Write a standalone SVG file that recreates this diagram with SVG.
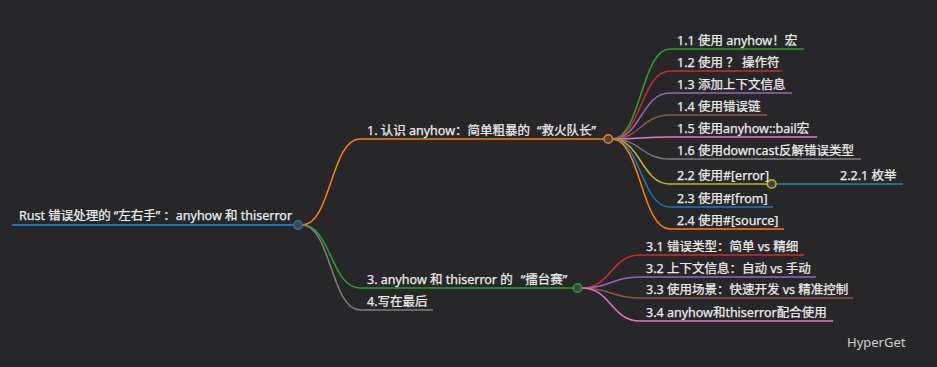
<svg xmlns="http://www.w3.org/2000/svg" width="937" height="367" viewBox="0 0 937 367">
<style>
text{font-family:"Noto Sans","Noto Sans CJK SC",sans-serif;font-size:12.5px;fill:#ececec;stroke:#ececec;stroke-width:0.25}
.l{fill:none;stroke-width:1.5}
.dot{fill:#444;stroke-width:1.5}
.wm{font-size:13px;fill:#cfcfcf;stroke:none}
</style>
<rect width="937" height="367" fill="#272729"/>
<g id="connectors">
<path class="l" stroke="#ff7f0e" d="M302,225 C331,225 331,139 360,139 H604"/>
<path class="l" stroke="#2ca02c" d="M302,225 C331,225 331,288 360,288 H573"/>
<path class="l" stroke="#7f7f7f" d="M302,225 C331,225 331,310 360,310 H433"/>
<path class="l" stroke="#2ca02c" d="M612,139 C641,139 641,49 670,49 H804"/>
<path class="l" stroke="#d62728" d="M612,139 C641,139 641,71 670,71 H782"/>
<path class="l" stroke="#9467bd" d="M612,139 C641,139 641,93 670,93 H792"/>
<path class="l" stroke="#8c564b" d="M612,139 C641,139 641,115 670,115 H767"/>
<path class="l" stroke="#e377c2" d="M612,139 C641,139 641,137 670,137 H817"/>
<path class="l" stroke="#7f7f7f" d="M612,139 C641,139 641,159 670,159 H861"/>
<path class="l" stroke="#bcbd22" d="M612,139 C641,139 641,184 670,184 H767"/>
<path class="l" stroke="#1f77b4" d="M612,139 C641,139 641,207 670,207 H773"/>
<path class="l" stroke="#ff7f0e" d="M612,139 C641,139 641,229 670,229 H784"/>
<path class="l" stroke="#1a8f9b" d="M776,184 H903"/>
<path class="l" stroke="#d62728" d="M582,288 C611,288 611,255 640,255 H804"/>
<path class="l" stroke="#9467bd" d="M582,288 C611,288 611,277 640,277 H816"/>
<path class="l" stroke="#8c564b" d="M582,288 C611,288 611,298 640,298 H853"/>
<path class="l" stroke="#e377c2" d="M582,288 C611,288 611,321 640,321 H833"/>
</g>
<g id="root">
<path stroke="#1f77b4" stroke-width="2" d="M12,225 H293"/>
<circle class="dot" stroke="#1f77b4" cx="298" cy="225" r="4.3"/>
<text x="19" y="220">Rust 错误处理的<tspan dx="3">“</tspan>左右手”<tspan dx="3">：</tspan>anyhow 和 thiserror</text>
</g>
<g id="n1"><circle class="dot" stroke="#ff7f0e" cx="608.3" cy="139" r="4.3"/><text x="367" y="135">1. 认识 anyhow：简单粗暴的<tspan dx="7">“</tspan>救火队长”</text></g>
<g id="n3"><circle class="dot" stroke="#2ca02c" cx="577.5" cy="288" r="4.3"/><text x="367" y="284">3. anyhow 和 thiserror 的<tspan dx="8">“</tspan>擂台赛”</text></g>
<g id="n4"><text x="367" y="306">4.写在最后</text></g>
<g id="n11"><text x="677" y="45">1.1 使用 anyhow！宏</text></g>
<g id="n12"><text x="677" y="67">1.2 使用 ？ 操作符</text></g>
<g id="n13"><text x="677" y="89">1.3 添加上下文信息</text></g>
<g id="n14"><text x="677" y="111">1.4 使用错误链</text></g>
<g id="n15"><text x="677" y="133">1.5 使用anyhow::bail宏</text></g>
<g id="n16"><text x="677" y="155">1.6 使用downcast反解错误类型</text></g>
<g id="n22"><circle class="dot" stroke="#bcbd22" cx="771.7" cy="184" r="4.3"/><text x="677" y="180">2.2 使用#[error]</text></g>
<g id="n221"><text x="840" y="180">2.2.1 枚举</text></g>
<g id="n23"><text x="677" y="203">2.3 使用#[from]</text></g>
<g id="n24"><text x="677" y="225">2.4 使用#[source]</text></g>
<g id="n31"><text x="646" y="251">3.1 错误类型：简单 vs 精细</text></g>
<g id="n32"><text x="646" y="273">3.2 上下文信息：自动 vs 手动</text></g>
<g id="n33"><text x="646" y="294">3.3 使用场景：快速开发 vs 精准控制</text></g>
<g id="n34"><text x="646" y="317">3.4 anyhow和thiserror配合使用</text></g>
<text class="wm" x="847" y="347">HyperGet</text>
</svg>
